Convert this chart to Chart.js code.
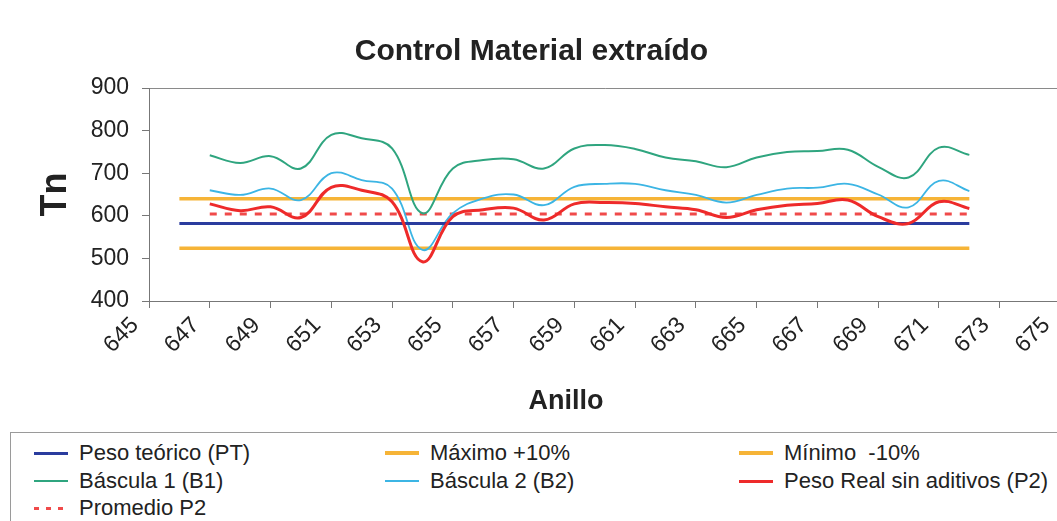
<!DOCTYPE html>
<html>
<head>
<meta charset="utf-8">
<title>Control Material extraído</title>
<script src="https://cdn.jsdelivr.net/npm/chart.js@4.4.1/dist/chart.umd.min.js"></script>
<style>
  html, body { margin: 0; padding: 0; background: #fff; overflow: hidden; }
  body { width: 1057px; height: 521px; position: relative; font-family: "Liberation Sans", Arial, sans-serif; }
  #chartBox { position: absolute; left: 0; top: 0; width: 1084px; height: 430px; }
  #legend { position: absolute; left: 10px; top: 432px; width: 1070px; height: 110px;
            border-top: 1px solid #9a9a9a; border-left: 1px solid #9a9a9a; }
  .item { position: absolute; display: flex; align-items: center; height: 26px;
          font-size: 22px; color: #222; white-space: pre; }
  .mark { width: 34px; margin-right: 11px; }
</style>
</head>
<body>
<div id="chartBox"><canvas id="controlChart" width="1084" height="430"></canvas></div>
<div id="legend"></div>
<script>
// anillos medidos
const anillos = [647, 648, 649, 650, 651, 652, 653, 654, 655, 656, 657, 658, 659,
                 660, 661, 662, 663, 664, 665, 666, 667, 668, 669, 670, 671, 672];
const bascula1 = [742, 724, 740, 711, 790, 782, 758, 606, 711, 731, 733, 711, 758,
                  766, 757, 737, 728, 714, 737, 750, 752, 755, 715, 690, 760, 743];
const bascula2 = [660, 649, 664, 637, 700, 684, 664, 520, 606, 641, 650, 625, 668,
                  675, 675, 660, 649, 631, 649, 664, 666, 675, 650, 620, 682, 658];
const pesoReal = [628, 612, 621, 596, 667, 660, 633, 492, 598, 614, 618, 590, 628,
                  631, 629, 621, 614, 596, 614, 625, 629, 637, 598, 582, 633, 617];
const promedioP2 = [604, 604, 604, 604, 604, 604, 604, 604, 604, 604, 604, 604, 604,
                    604, 604, 604, 604, 604, 604, 604, 604, 604, 604, 604, 604, 604];

// lineas de referencia (PT y limites +-10%)
const limiteX = [646, 672];
const pesoTeorico = [582, 582];
const maximo = [640, 640];
const minimo = [524, 524];

const xTicks = [645, 647, 649, 651, 653, 655, 657, 659, 661, 663, 665, 667, 669, 671, 673, 675];
const yTicks = [400, 500, 600, 700, 800, 900];

const FONT = '"Liberation Sans", Arial, sans-serif';

const pts = (xs, ys) => xs.map((x, i) => ({ x: x, y: ys[i] }));

const datasets = [
    { label: "Peso teórico (PT)", data: pts(limiteX, pesoTeorico), borderColor: "#2a3c9e", borderWidth: 3, order: 2 },
    { label: "Máximo +10%", data: pts(limiteX, maximo), borderColor: "#f6b437", borderWidth: 3.5, order: 6 },
    { label: "Mínimo  -10%", data: pts(limiteX, minimo), borderColor: "#f6b437", borderWidth: 3.5, order: 6 },
    { label: "Báscula 1 (B1)", data: pts(anillos, bascula1), borderColor: "#2fa57f", borderWidth: 2, tension: 0.4, order: 4 },
    { label: "Báscula 2 (B2)", data: pts(anillos, bascula2), borderColor: "#3cb5e4", borderWidth: 1.8, tension: 0.4, order: 3 },
    { label: "Peso Real sin aditivos (P2)", data: pts(anillos, pesoReal), borderColor: "#ee2a2a", borderWidth: 3, tension: 0.4, order: 1 },
    { label: "Promedio P2", data: pts(anillos, promedioP2), borderColor: "#f04a4a", borderWidth: 3, borderDash: [7, 8], order: 5 },
];
datasets.forEach((d) => { d.pointRadius = 0; d.fill = false; });

// titulo del eje X dibujado a mano (no centrado en el area de trazado)
const anilloTitle = {
    id: "anilloTitle",
    afterDraw(chart) {
        const ctx = chart.ctx;
        ctx.save();
        ctx.font = "bold 27px " + FONT;
        ctx.fillStyle = "#222";
        ctx.textAlign = "center";
        ctx.textBaseline = "middle";
        ctx.fillText("Anillo", 566, 402);
        ctx.restore();
    },
};

const chart = new Chart(document.getElementById("controlChart"), {
    type: "line",
    data: { datasets: datasets },
    plugins: [anilloTitle],
    options: {
        responsive: false,
        animation: false,
        layout: { padding: { left: 0, right: 21, top: 0, bottom: 0 } },
        plugins: {
            legend: { display: false },
            tooltip: { enabled: false },
            title: {
                display: true,
                text: "Control Material extraído",
                color: "#222",
                font: { family: FONT, size: 30, weight: "bold", lineHeight: 1.2 },
                padding: { top: 34, bottom: 18 },
            },
        },
        scales: {
            x: {
                type: "linear",
                min: 645,
                max: 675,
                afterBuildTicks: (scale) => { scale.ticks = xTicks.map((v) => ({ value: v })); },
                afterFit: (scale) => { scale.height = 129; },
                ticks: {
                    color: "#222",
                    font: { family: FONT, size: 23 },
                    minRotation: 45,
                    maxRotation: 45,
                    padding: 4,
                    labelOffset: -14,
                },
                grid: { display: true, drawOnChartArea: false, drawTicks: true, tickLength: 7, color: "#777" },
                border: { display: true, color: "#777", width: 1 },
            },
            y: {
                min: 400,
                max: 900,
                afterBuildTicks: (scale) => { scale.ticks = yTicks.map((v) => ({ value: v })); },
                afterFit: (scale) => { scale.width = 149; },
                ticks: { color: "#222", font: { family: FONT, size: 23 }, padding: 13 },
                grid: {
                    drawTicks: true,
                    tickLength: 7,
                    tickColor: "#777",
                    color: (ctx) => (ctx.tick && ctx.tick.value === 900 ? "#8a8a8a" : "rgba(0,0,0,0)"),
                },
                border: { display: true, color: "#777", width: 1 },
                title: {
                    display: true,
                    text: "Tn",
                    color: "#222",
                    font: { family: FONT, size: 36, weight: "bold", lineHeight: 1.2 },
                    padding: { top: 34, bottom: 0 },
                },
            },
        },
    },
});

// leyenda en tres columnas
const legendBox = document.getElementById("legend");
const colLeft = [23, 374, 728];
const rowTop = [7, 35, 62];
chart.data.datasets.forEach((ds, i) => {
    const item = document.createElement("div");
    item.className = "item";
    item.style.left = colLeft[i % 3] + "px";
    item.style.top = rowTop[Math.floor(i / 3)] + "px";
    const mark = document.createElement("span");
    mark.className = "mark";
    const h = Math.max(2, Math.round(ds.borderWidth));
    mark.style.height = h + "px";
    if (ds.borderDash) {
        mark.style.background = "repeating-linear-gradient(90deg, " + ds.borderColor + " 0 5px, transparent 5px 12px)";
    } else {
        mark.style.background = ds.borderColor;
    }
    const text = document.createElement("span");
    text.textContent = ds.label;
    item.appendChild(mark);
    item.appendChild(text);
    legendBox.appendChild(item);
});
</script>
</body>
</html>
